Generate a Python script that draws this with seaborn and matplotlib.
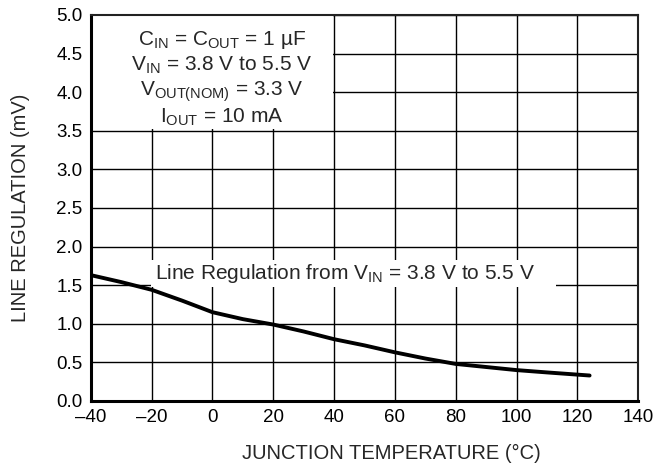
import matplotlib
matplotlib.use("Agg")
import matplotlib.pyplot as plt
import seaborn as sns
import pandas as pd
from matplotlib.patches import Rectangle

# Data
temperature = [-40, -30, -20, -10, 0, 10, 20, 30, 40, 50, 60, 70, 80, 90, 100, 110, 124]
line_regulation = [1.63, 1.54, 1.44, 1.30, 1.15, 1.06, 0.99, 0.90, 0.80, 0.72, 0.63, 0.55, 0.48, 0.44, 0.40, 0.37, 0.33]
x_ticks = [-40, -20, 0, 20, 40, 60, 80, 100, 120, 140]
y_ticks = [0.0, 0.5, 1.0, 1.5, 2.0, 2.5, 3.0, 3.5, 4.0, 4.5, 5.0]

sns.set_style("white")
plt.rcParams['font.family'] = ['Liberation Sans', 'DejaVu Sans']
plt.rcParams['mathtext.fontset'] = 'custom'
plt.rcParams['mathtext.rm'] = 'Liberation Sans'
plt.rcParams['mathtext.it'] = 'Liberation Sans:italic'
plt.rcParams['axes.unicode_minus'] = True

df = pd.DataFrame({"T": temperature, "LR": line_regulation})

fig = plt.figure(figsize=(6.58, 4.66), dpi=100)
ax = fig.add_axes([0.138, 0.1395, 0.832, 0.8285])

ax.set_xlim(-40, 140)
ax.set_ylim(0, 5.0)
ax.set_xticks(x_ticks)
ax.set_yticks(y_ticks)
ax.set_xticklabels([str(v).replace('-', '\u2013') for v in x_ticks])
ax.set_yticklabels([f"{v:.1f}" for v in y_ticks])
ax.set_axisbelow(True)
ax.grid(True, color='black', linewidth=1.0)

# white panels behind the annotation texts
ax.add_patch(Rectangle((-39.6, 3.52), 79.3, 1.46, facecolor='white', edgecolor='none', zorder=1))
ax.add_patch(Rectangle((-20.3, 1.47), 133.3, 0.35, facecolor='white', edgecolor='none', zorder=1))

sns.lineplot(data=df, x="T", y="LR", ax=ax, color='black', linewidth=2.8, zorder=3)

ax.set_xlabel("JUNCTION TEMPERATURE (\u00b0C)", fontsize=14.5)
ax.set_ylabel("LINE REGULATION (mV)", fontsize=14.5, labelpad=19)
ax.xaxis.set_label_coords(0.549, -0.112)
ax.tick_params(axis='both', length=0, labelsize=13.5, colors='black')
ax.tick_params(axis='y', pad=6)
ax.tick_params(axis='x', pad=6)

for side in ['left', 'bottom']:
    ax.spines[side].set_linewidth(2.2)
    ax.spines[side].set_color('black')
for side in ['top', 'right']:
    ax.spines[side].set_linewidth(1.5)
    ax.spines[side].set_color('#222222')
    ax.spines[side].set_visible(True)

cond = ["C$_{\\mathrm{IN}}$ = C$_{\\mathrm{OUT}}$ = 1 \u00b5F",
        "V$_{\\mathrm{IN}}$ = 3.8 V to 5.5 V",
        "V$_{\\mathrm{OUT(NOM)}}$ = 3.3 V",
        "I$_{\\mathrm{OUT}}$ = 10 mA"]
ys = [4.68, 4.35, 4.01, 3.67]
for t, y in zip(cond, ys):
    ax.text(3, y, t, ha='center', va='center', fontsize=15, zorder=4)

ax.text(-18.8, 1.65, "Line Regulation from V$_{\\mathrm{IN}}$ = 3.8 V to 5.5 V",
        ha='left', va='center', fontsize=15, zorder=4)

fig.savefig("out.png", dpi=100)
